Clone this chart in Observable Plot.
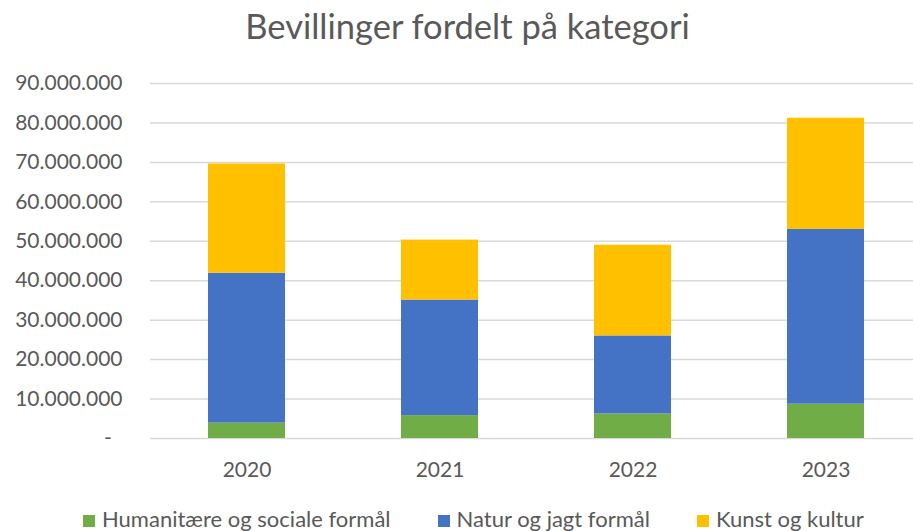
<!DOCTYPE html>
<html><head><meta charset="utf-8">
<script src="https://cdn.jsdelivr.net/npm/d3@7"></script>
<script src="https://cdn.jsdelivr.net/npm/@observablehq/plot@0.6"></script>
<style>
  html, body { margin: 0; padding: 0; background: #fff; overflow: hidden; width: 913px; height: 531px; }
  #title { height: 52px; line-height: 52px; text-align: center; padding-left: 22px; font-family: Lato, sans-serif; font-size: 34.5px; color: #595959; white-space: nowrap; }
  #legend { height: 30px; line-height: 30px; font-family: Lato, sans-serif; font-size: 22px; color: #595959; display: flex; gap: 47px; padding-left: 83px; white-space: nowrap; }
  #legend .sw { display: inline-block; width: 12px; height: 12px; margin-right: 7px; vertical-align: baseline; }
  #chart svg { display: block; overflow: visible; }
</style>
</head><body>
<div id="title"></div>
<div id="chart"></div>
<div id="legend"></div>
<script>
const title = "Bevillinger fordelt på kategori";
const years = ["2020", "2021", "2022", "2023"];
const categories = ["Humanitære og sociale formål", "Natur og jagt formål", "Kunst og kultur"];
const colors = ["#70AD47", "#4472C4", "#FFC000"];
const humanitaere = [3900000, 5800000, 6200000, 8700000];
const natur = [38000000, 29300000, 19800000, 44300000];
const kunst = [27700000, 15200000, 23000000, 28200000];
const yTicks = [0, 10000000, 20000000, 30000000, 40000000, 50000000, 60000000, 70000000, 80000000, 90000000];

const series = [humanitaere, natur, kunst];
const data = [];
categories.forEach((c, i) => years.forEach((y, j) => data.push({year: y, category: c, value: series[i][j]})));

const fmt = d => d === 0 ? "-\u00a0\u00a0" : d3.format(",")(d).replace(/,/g, ".");

document.getElementById("title").textContent = title;

const plot = Plot.plot({
  width: 913,
  height: 452,
  marginLeft: 150,
  marginRight: -9,
  marginTop: 31,
  marginBottom: 66,
  style: {fontFamily: "Lato, sans-serif", fontSize: "21px", color: "#595959", background: "white", overflow: "visible"},
  x: {domain: years, paddingInner: 0.6, paddingOuter: 0.3, label: null},
  y: {domain: [0, 90000000], label: null},
  color: {domain: categories, range: colors},
  marks: [
    Plot.ruleY(yTicks, {stroke: "#d9d9d9", strokeWidth: 1.5}),
    Plot.barY(data, {x: "year", y: "value", fill: "category", order: categories}),
    Plot.axisY({ticks: yTicks, tickFormat: fmt, tickSize: 0, tickPadding: 28, label: null, fill: "#595959"}),
    Plot.axisX({tickSize: 0, tickPadding: 24, label: null, fill: "#595959"})
  ]
});
document.getElementById("chart").appendChild(plot);

const legend = document.getElementById("legend");
categories.forEach((c, i) => {
  const item = document.createElement("span");
  const sw = document.createElement("span");
  sw.className = "sw";
  sw.style.background = colors[i];
  item.appendChild(sw);
  item.appendChild(document.createTextNode(c));
  legend.appendChild(item);
});
</script></body></html>
